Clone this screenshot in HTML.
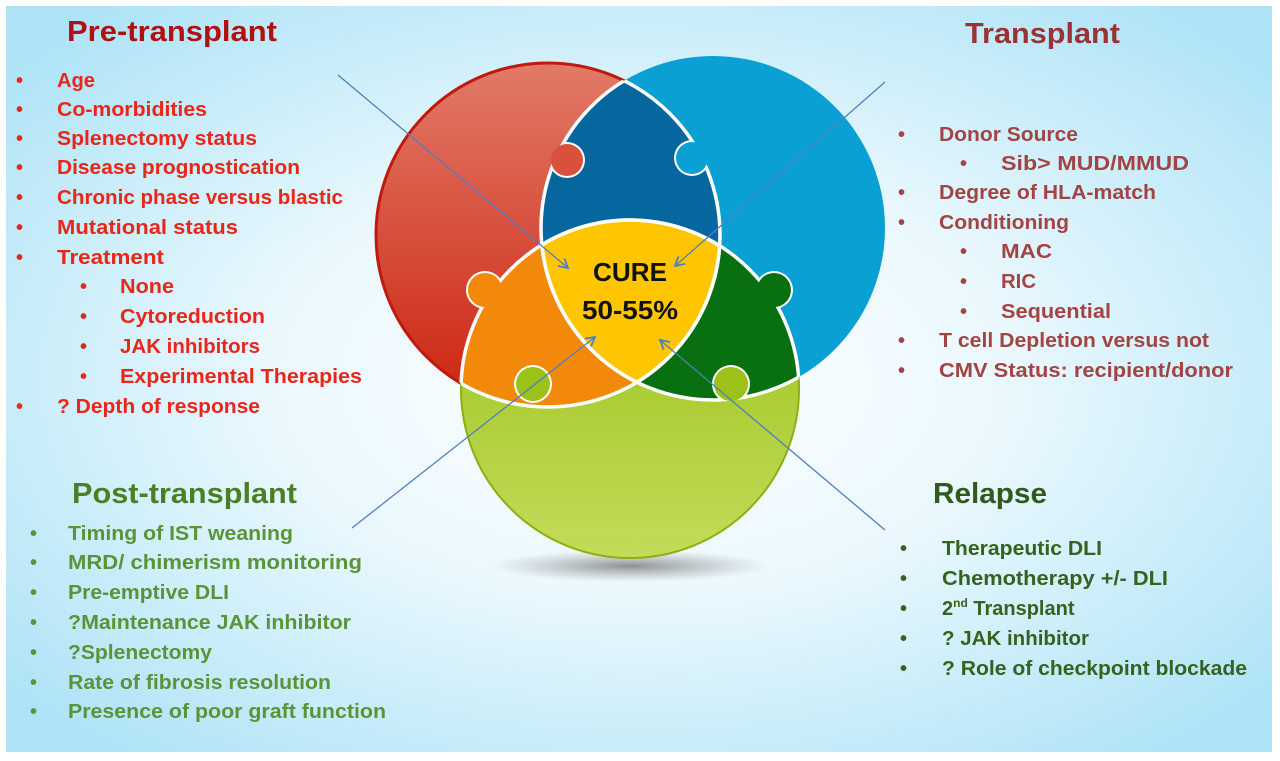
<!DOCTYPE html>
<html><head><meta charset="utf-8"><style>
html,body{margin:0;padding:0;background:#fff;}
svg{display:block;}
text{font-family:"Liberation Sans",sans-serif;font-weight:bold;}
</style></head><body>
<svg width="1280" height="761" viewBox="0 0 1280 761" xmlns="http://www.w3.org/2000/svg">
<defs>
<radialGradient id="bg" cx="50%" cy="50%" r="65%">
<stop offset="0" stop-color="#ffffff"/><stop offset="0.45" stop-color="#eaf8fd"/><stop offset="1" stop-color="#aee3f7"/>
</radialGradient>
<linearGradient id="gr" x1="0" y1="0" x2="0" y2="1"><stop offset="0" stop-color="#e27a68"/><stop offset="1" stop-color="#cc2410"/></linearGradient>
<linearGradient id="gg" x1="0" y1="0" x2="0" y2="1"><stop offset="0" stop-color="#95bd10"/><stop offset="1" stop-color="#c3dc5a"/></linearGradient>
<radialGradient id="sh" cx="50%" cy="50%" r="50%"><stop offset="0" stop-color="#777" stop-opacity="0.8"/><stop offset="1" stop-color="#999" stop-opacity="0"/></radialGradient>
<clipPath id="cR"><circle cx="548" cy="235" r="172"/></clipPath>
<clipPath id="cB"><circle cx="713" cy="228" r="172"/></clipPath>
<clipPath id="cG"><circle cx="630" cy="389" r="169"/></clipPath>
<mask id="notG" maskUnits="userSpaceOnUse" x="0" y="0" width="1280" height="761"><rect width="1280" height="761" fill="#fff"/><circle cx="630" cy="389" r="169" fill="#000"/></mask>
<marker id="ar" markerWidth="12" markerHeight="12" refX="10" refY="6" orient="auto" markerUnits="userSpaceOnUse">
<path d="M1,1 L10,6 L1,11" fill="none" stroke="#4f7fc0" stroke-width="1.8"/></marker>
</defs>
<rect width="1280" height="761" fill="#fff"/>
<rect x="6" y="6" width="1266" height="746" fill="url(#bg)"/>
<ellipse cx="630" cy="566" rx="140" ry="16" fill="url(#sh)"/>
<circle cx="548" cy="235" r="172" fill="url(#gr)" stroke="#c01a10" stroke-width="3"/>
<circle cx="713" cy="228" r="172" fill="#0aa0d4"/>
<circle cx="630" cy="389" r="169" fill="url(#gg)" stroke="#8cb010" stroke-width="2"/>
<g clip-path="url(#cR)"><circle cx="713" cy="228" r="172" fill="#06679f"/></g>
<g clip-path="url(#cR)"><circle cx="630" cy="389" r="169" fill="#f2890a"/></g>
<g clip-path="url(#cB)"><circle cx="630" cy="389" r="169" fill="#087010"/></g>
<g clip-path="url(#cR)"><g clip-path="url(#cB)"><circle cx="630" cy="389" r="169" fill="#ffc600"/></g></g>
<g fill="none" stroke="#fff" stroke-width="3.5">
<g clip-path="url(#cB)"><circle cx="548" cy="235" r="172"/></g>
<g clip-path="url(#cG)"><circle cx="548" cy="235" r="172"/></g>
<g clip-path="url(#cR)"><circle cx="713" cy="228" r="172"/></g>
<g clip-path="url(#cG)"><circle cx="713" cy="228" r="172"/></g>
<g clip-path="url(#cR)"><circle cx="630" cy="389" r="169"/></g>
<g clip-path="url(#cB)"><circle cx="630" cy="389" r="169"/></g>
</g>
<!-- knob outlines only where they intrude into the host piece -->
<g fill="#fff">
<g clip-path="url(#cB)"><circle cx="567" cy="160" r="18"/></g>
<g clip-path="url(#cR)"><circle cx="692" cy="158" r="18"/></g>
<g mask="url(#notG)"><circle cx="485" cy="290" r="19"/><circle cx="774" cy="290" r="19"/></g>
<g clip-path="url(#cR)"><circle cx="533" cy="384" r="19"/></g>
<g clip-path="url(#cB)"><circle cx="731" cy="384" r="19"/></g>
</g>
<g>
<circle cx="567" cy="160" r="16" fill="#d9503d"/>
<circle cx="692" cy="158" r="16" fill="#0aa0d4"/>
<circle cx="485" cy="290" r="17" fill="#f2890a"/>
<circle cx="774" cy="290" r="17" fill="#087010"/>
<circle cx="533" cy="384" r="17" fill="#9cc21a"/>
<circle cx="731" cy="384" r="17" fill="#9cc21a"/>
</g>
<text x="630" y="281" font-size="26" text-anchor="middle" fill="#111" textLength="74" lengthAdjust="spacingAndGlyphs">CURE</text>
<text x="630" y="319" font-size="26" text-anchor="middle" fill="#111" textLength="96" lengthAdjust="spacingAndGlyphs">50-55%</text>
<g stroke="#4f7fc0" stroke-width="1.3" fill="none" marker-end="url(#ar)">
<line x1="338" y1="75" x2="568" y2="268"/>
<line x1="885" y1="82" x2="675" y2="266"/>
<line x1="352" y1="528" x2="595" y2="337"/>
<line x1="885" y1="530" x2="660" y2="340"/>
</g>
<g fill="#b01010"><text x="67" y="41" font-size="29" textLength="210" lengthAdjust="spacingAndGlyphs">Pre-transplant</text></g>
<g fill="#e8261a" font-size="20">
<text x="16" y="87">•</text><text x="57" y="87" textLength="38" lengthAdjust="spacingAndGlyphs">Age</text>
<text x="16" y="116">•</text><text x="57" y="116" textLength="150" lengthAdjust="spacingAndGlyphs">Co-morbidities</text>
<text x="16" y="145">•</text><text x="57" y="145" textLength="200" lengthAdjust="spacingAndGlyphs">Splenectomy status</text>
<text x="16" y="174">•</text><text x="57" y="174" textLength="243" lengthAdjust="spacingAndGlyphs">Disease prognostication</text>
<text x="16" y="204">•</text><text x="57" y="204" textLength="286" lengthAdjust="spacingAndGlyphs">Chronic phase versus blastic</text>
<text x="16" y="234">•</text><text x="57" y="234" textLength="181" lengthAdjust="spacingAndGlyphs">Mutational status</text>
<text x="16" y="264">•</text><text x="57" y="264" textLength="107" lengthAdjust="spacingAndGlyphs">Treatment</text>
<text x="80" y="293">•</text><text x="120" y="293" textLength="54" lengthAdjust="spacingAndGlyphs">None</text>
<text x="80" y="323">•</text><text x="120" y="323" textLength="145" lengthAdjust="spacingAndGlyphs">Cytoreduction</text>
<text x="80" y="353">•</text><text x="120" y="353" textLength="140" lengthAdjust="spacingAndGlyphs">JAK inhibitors</text>
<text x="80" y="383">•</text><text x="120" y="383" textLength="242" lengthAdjust="spacingAndGlyphs">Experimental Therapies</text>
<text x="16" y="413">•</text><text x="57" y="413" textLength="203" lengthAdjust="spacingAndGlyphs">? Depth of response</text>
</g>
<text x="965" y="43" font-size="29" fill="#9a3434" textLength="155" lengthAdjust="spacingAndGlyphs">Transplant</text>
<g fill="#a34444" font-size="20">
<text x="898" y="141">•</text><text x="939" y="141" textLength="139" lengthAdjust="spacingAndGlyphs">Donor Source</text>
<text x="960" y="170">•</text><text x="1001" y="170" textLength="188" lengthAdjust="spacingAndGlyphs">Sib&gt; MUD/MMUD</text>
<text x="898" y="199">•</text><text x="939" y="199" textLength="217" lengthAdjust="spacingAndGlyphs">Degree of HLA-match</text>
<text x="898" y="229">•</text><text x="939" y="229" textLength="130" lengthAdjust="spacingAndGlyphs">Conditioning</text>
<text x="960" y="258">•</text><text x="1001" y="258" textLength="51" lengthAdjust="spacingAndGlyphs">MAC</text>
<text x="960" y="288">•</text><text x="1001" y="288" textLength="35" lengthAdjust="spacingAndGlyphs">RIC</text>
<text x="960" y="318">•</text><text x="1001" y="318" textLength="110" lengthAdjust="spacingAndGlyphs">Sequential</text>
<text x="898" y="347">•</text><text x="939" y="347" textLength="270" lengthAdjust="spacingAndGlyphs">T cell Depletion versus not</text>
<text x="898" y="377">•</text><text x="939" y="377" textLength="294" lengthAdjust="spacingAndGlyphs">CMV Status: recipient/donor</text>
</g>
<text x="72" y="503" font-size="29" fill="#4a7f26" textLength="225" lengthAdjust="spacingAndGlyphs">Post-transplant</text>
<g fill="#5a9438" font-size="20">
<text x="30" y="540">•</text><text x="68" y="540" textLength="225" lengthAdjust="spacingAndGlyphs">Timing of IST weaning</text>
<text x="30" y="569">•</text><text x="68" y="569" textLength="294" lengthAdjust="spacingAndGlyphs">MRD/ chimerism monitoring</text>
<text x="30" y="599">•</text><text x="68" y="599" textLength="161" lengthAdjust="spacingAndGlyphs">Pre-emptive DLI</text>
<text x="30" y="629">•</text><text x="68" y="629" textLength="283" lengthAdjust="spacingAndGlyphs">?Maintenance JAK inhibitor</text>
<text x="30" y="659">•</text><text x="68" y="659" textLength="144" lengthAdjust="spacingAndGlyphs">?Splenectomy</text>
<text x="30" y="689">•</text><text x="68" y="689" textLength="263" lengthAdjust="spacingAndGlyphs">Rate of fibrosis resolution</text>
<text x="30" y="718">•</text><text x="68" y="718" textLength="318" lengthAdjust="spacingAndGlyphs">Presence of poor graft function</text>
</g>
<text x="933" y="503" font-size="29" fill="#2f5a1c" textLength="114" lengthAdjust="spacingAndGlyphs">Relapse</text>
<g fill="#36621f" font-size="20">
<text x="900" y="555">•</text><text x="942" y="555" textLength="160" lengthAdjust="spacingAndGlyphs">Therapeutic DLI</text>
<text x="900" y="585">•</text><text x="942" y="585" textLength="226" lengthAdjust="spacingAndGlyphs">Chemotherapy +/- DLI</text>
<text x="900" y="615">•</text><text x="942" y="615">2<tspan font-size="12" dy="-8">nd</tspan><tspan dy="8"> Transplant</tspan></text>
<text x="900" y="645">•</text><text x="942" y="645" textLength="147" lengthAdjust="spacingAndGlyphs">? JAK inhibitor</text>
<text x="900" y="675">•</text><text x="942" y="675" textLength="305" lengthAdjust="spacingAndGlyphs">? Role of checkpoint blockade</text>
</g>
</svg>
</body></html>
